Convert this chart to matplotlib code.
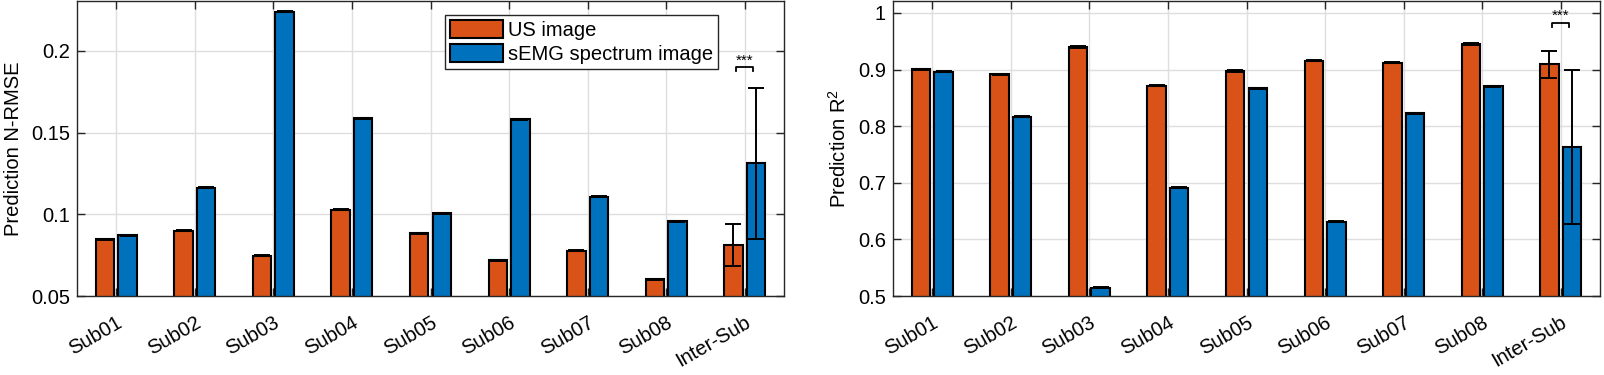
import matplotlib
matplotlib.use("Agg")
import matplotlib.pyplot as plt
import numpy as np

plt.rcParams['font.family'] = ['Liberation Sans', 'DejaVu Sans']
plt.rcParams['mathtext.fontset'] = 'custom'
plt.rcParams['mathtext.rm'] = 'Liberation Sans'
plt.rcParams['mathtext.default'] = 'regular'

categories = ['Sub01', 'Sub02', 'Sub03', 'Sub04', 'Sub05', 'Sub06', 'Sub07', 'Sub08', 'Inter-Sub']
series_names = ['US image', 'sEMG spectrum image']

rmse_us = [0.0847, 0.0900, 0.0747, 0.1027, 0.0884, 0.0720, 0.0777, 0.0604, 0.0812]
rmse_us_err = [0.0003, 0.0003, 0.0003, 0.0003, 0.0003, 0.0003, 0.0003, 0.0003, 0.0130]
rmse_emg = [0.0872, 0.1162, 0.2240, 0.1588, 0.1008, 0.1582, 0.1108, 0.0957, 0.1314]
rmse_emg_err = [0.0003, 0.0003, 0.0003, 0.0003, 0.0003, 0.0003, 0.0003, 0.0003, 0.0462]

r2_us = [0.9004, 0.8915, 0.9397, 0.8716, 0.8974, 0.9157, 0.9120, 0.9450, 0.9090]
r2_us_err = [0.001, 0.001, 0.001, 0.001, 0.001, 0.001, 0.001, 0.001, 0.0243]
r2_emg = [0.8963, 0.8170, 0.5147, 0.6910, 0.8670, 0.6310, 0.8228, 0.8704, 0.7634]
r2_emg_err = [0.001, 0.001, 0.001, 0.001, 0.001, 0.001, 0.001, 0.001, 0.1365]

c_us = '#D95319'
c_emg = '#0072BD'
axcol = '#262626'
FS = 14.5

fig = plt.figure(figsize=(16.04, 3.75), dpi=100)
ax1 = fig.add_axes([77/1604, 1-296/375, (784-77)/1604, 295/375])
ax2 = fig.add_axes([893/1604, 1-296/375, (1600-893)/1604, 295/375])

x = np.arange(1, len(categories)+1)
w = 0.235
off = 0.143

def draw(ax, a, ae, b, be, ylim, yticks, yticklabels, ylabel, sig_y, sig_h):
    ax.set_axisbelow(True)
    ax.grid(True, color='#dedede', linewidth=1.0)
    ax.bar(x-off, a, w, color=c_us, edgecolor='black', linewidth=1.5, label=series_names[0], zorder=2)
    ax.bar(x+off, b, w, color=c_emg, edgecolor='black', linewidth=1.5, label=series_names[1], zorder=2)
    ax.errorbar(x-off, a, yerr=ae, fmt='none', ecolor='black', elinewidth=1.4, capsize=6.0, capthick=1.4, zorder=3)
    ax.errorbar(x+off, b, yerr=be, fmt='none', ecolor='black', elinewidth=1.4, capsize=6.0, capthick=1.4, zorder=3)
    ax.set_xlim(0.5, len(categories)+0.5)
    ax.set_ylim(*ylim)
    ax.set_yticks(yticks)
    ax.set_yticklabels(yticklabels)
    ax.set_xticks(x)
    ax.set_xticklabels(categories, rotation=30, ha='right', rotation_mode='anchor')
    ax.tick_params(direction='in', length=5.5, width=1.0, top=True, right=True,
                   labelsize=FS, colors=axcol, labelcolor='black', pad=5)
    ax.tick_params(axis='x', pad=12)
    for s in ax.spines.values():
        s.set_color(axcol)
        s.set_linewidth(1.0)
    ax.set_ylabel(ylabel, fontsize=FS)
    xc = x[-1]
    ax.plot([xc-0.105, xc-0.105, xc+0.105, xc+0.105], [sig_y-sig_h, sig_y, sig_y, sig_y-sig_h],
            color='black', linewidth=1.3, zorder=4)
    ax.text(xc, sig_y, '***', ha='center', va='bottom', fontsize=11)

draw(ax1, rmse_us, rmse_us_err, rmse_emg, rmse_emg_err, (0.05, 0.2306),
     [0.05, 0.1, 0.15, 0.2], ['0.05', '0.1', '0.15', '0.2'], 'Prediction N-RMSE', 0.1900, 0.0022)
draw(ax2, r2_us, r2_us_err, r2_emg, r2_emg_err, (0.5, 1.021),
     [0.5, 0.6, 0.7, 0.8, 0.9, 1.0], ['0.5', '0.6', '0.7', '0.8', '0.9', '1'], 'Prediction R$^2$', 0.983, 0.008)

leg = ax1.legend(loc='upper left', bbox_to_anchor=(0.521, 0.953), fontsize=FS, frameon=True,
                 fancybox=False, framealpha=1, edgecolor=axcol, handlelength=2.6, handleheight=1.0,
                 handletextpad=0.25, borderpad=0.25, labelspacing=0.2, borderaxespad=0)
leg.get_frame().set_linewidth(1.0)

ax1.yaxis.set_label_coords(-0.0765, 0.5)
ax2.yaxis.set_label_coords(-0.061, 0.5)

fig.savefig('out.png', dpi=100)
